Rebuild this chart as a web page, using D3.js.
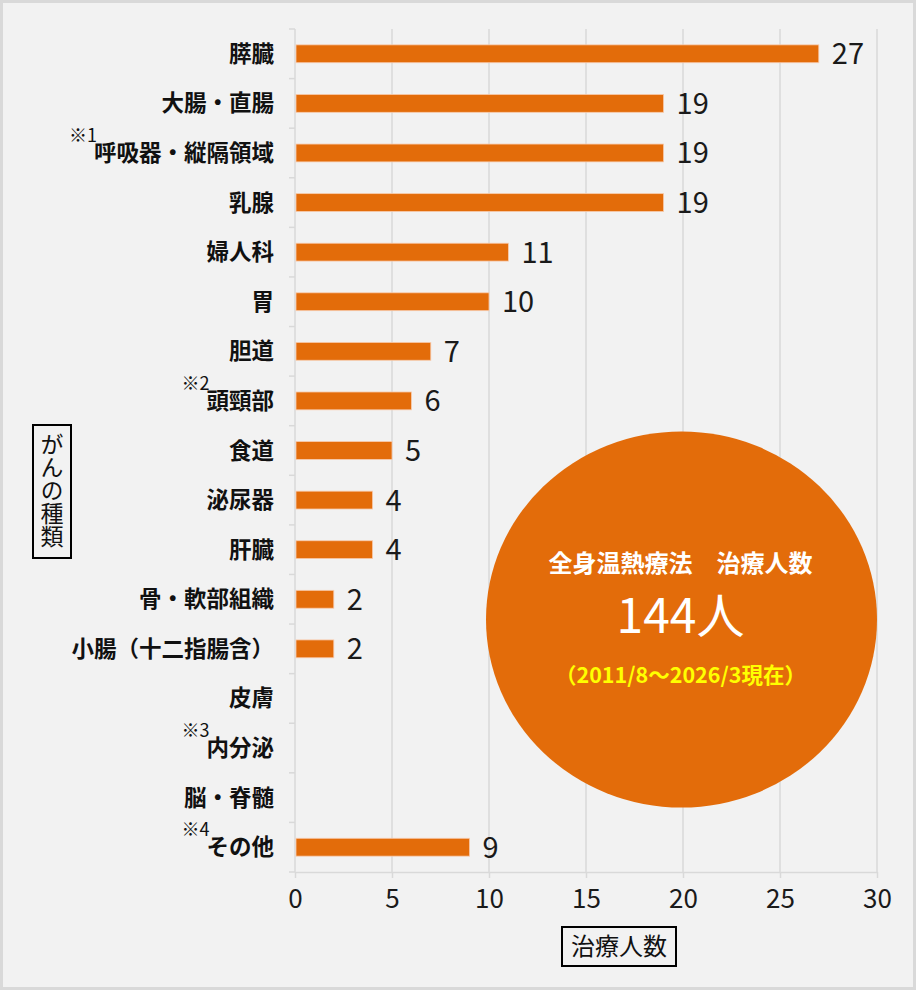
<!DOCTYPE html>
<html>
<head>
<meta charset="utf-8">
<script src="https://cdn.jsdelivr.net/npm/d3@7"></script>
<style>
	body { margin: 0; background: #f2f2f2; }
	svg { display: block; }
	text { font-family: "Noto Sans CJK JP", "Noto Sans", sans-serif; }
</style>
</head>
<body>
<svg id="chart" width="916" height="990"></svg>
<script>
//Data
const CATEGORIES = ["膵臓", "大腸・直腸", "呼吸器・縦隔領域", "乳腺", "婦人科", "胃", "胆道", "頭頸部", "食道", "泌尿器", "肝臓", "骨・軟部組織", "小腸（十二指腸含）", "皮膚", "内分泌", "脳・脊髄", "その他"];
const NOTES = ["", "", "※1", "", "", "", "", "※2", "", "", "", "", "", "", "※3", "", "※4"];
const VALUES = [27, 19, 19, 19, 11, 10, 7, 6, 5, 4, 4, 2, 2, 0, 0, 0, 9];
const X_TICKS = [0, 5, 10, 15, 20, 25, 30];
const X_TITLE = "治療人数";
const Y_TITLE = "がんの種類";
const CIRCLE_LINES = ["全身温熱療法　治療人数", "144人", "（2011/8～2026/3現在）"];

const ORANGE = "#e36c0a";
const GRID = "#d9d9d9";
const W = 916, H = 990;
const LABEL_RIGHT = 274;

const svg = d3.select("#chart");

//Background and frame
svg.append("rect")
	.attr("x", 1.5).attr("y", 1.5)
	.attr("width", W - 3).attr("height", H - 3)
	.attr("fill", "#f2f2f2")
	.attr("stroke", GRID)
	.attr("stroke-width", 3);

//Scales
const x = d3.scaleLinear().domain([0, 30]).range([295, 877]);
const y = d3.scaleBand().domain(CATEGORIES).range([29, 872]).paddingInner(0.64).paddingOuter(0.32);
const step = y.step();

//Vertical gridlines
svg.append("g").selectAll("line")
	.data(X_TICKS.filter(d => d > 0))
	.enter()
	.append("line")
	.attr("x1", d => x(d)).attr("x2", d => x(d))
	.attr("y1", y.range()[0]).attr("y2", y.range()[1])
	.attr("stroke", GRID)
	.attr("stroke-width", 1.5);

//Bottom axis
const xAxis = svg.append("g")
	.attr("transform", "translate(0," + y.range()[1] + ")")
	.call(d3.axisBottom(x).tickValues(X_TICKS).tickSize(6).tickPadding(12).tickSizeOuter(0));
xAxis.select(".domain").attr("stroke", GRID).attr("stroke-width", 1.5);
xAxis.selectAll(".tick line").attr("stroke", GRID).attr("stroke-width", 1.5);
xAxis.selectAll(".tick text")
	.attr("fill", "#1a1a1a")
	.style("font-size", "26px");

//Left axis line with ticks between categories
svg.append("line")
	.attr("x1", x(0)).attr("x2", x(0))
	.attr("y1", y.range()[0]).attr("y2", y.range()[1])
	.attr("stroke", GRID)
	.attr("stroke-width", 1.5);
svg.append("g").selectAll("line")
	.data(d3.range(CATEGORIES.length + 1))
	.enter()
	.append("line")
	.attr("x1", x(0) - 6).attr("x2", x(0))
	.attr("y1", i => y.range()[0] + i * step)
	.attr("y2", i => y.range()[0] + i * step)
	.attr("stroke", GRID)
	.attr("stroke-width", 1.5);

//Bars
const barData = CATEGORIES.map((c, i) => ({ cat: c, value: VALUES[i] })).filter(d => d.value > 0);
svg.append("g").selectAll("rect")
	.data(barData)
	.enter()
	.append("rect")
	.attr("x", x(0) + 1)
	.attr("y", d => y(d.cat))
	.attr("width", d => x(d.value) - x(0) - 1)
	.attr("height", y.bandwidth())
	.attr("fill", ORANGE)
	.attr("stroke", "#f8cbad")
	.attr("stroke-width", 0.8);

//Value labels
svg.append("g").selectAll("text")
	.data(barData)
	.enter()
	.append("text")
	.attr("x", d => x(d.value) + 13)
	.attr("y", d => y(d.cat) + y.bandwidth() / 2 + 10.5)
	.attr("fill", "#1a1a1a")
	.style("font-size", "29px")
	.text(d => d.value);

//Category labels with superscript notes
const catLabels = svg.append("g").selectAll("g")
	.data(CATEGORIES.map((c, i) => ({ cat: c, note: NOTES[i] })))
	.enter()
	.append("g");
catLabels.append("text")
	.attr("class", "cat")
	.attr("x", LABEL_RIGHT)
	.attr("y", d => y(d.cat) + y.bandwidth() / 2 + 8)
	.attr("text-anchor", "end")
	.attr("fill", "#111")
	.style("font-size", "22.5px")
	.style("font-weight", "bold")
	.text(d => d.cat);
catLabels.each(function (d)
{
	if (!d.note)
		return;
	const g = d3.select(this);
	const len = g.select("text.cat").node().getComputedTextLength();
	g.append("text")
		.attr("x", LABEL_RIGHT - len + 3)
		.attr("y", y(d.cat) + y.bandwidth() / 2 - 11)
		.attr("text-anchor", "end")
		.attr("fill", "#111")
		.style("font-size", "18px")
		.text(d.note);
});

//Y axis title (vertical, boxed)
svg.append("rect")
	.attr("x", 33).attr("y", 425)
	.attr("width", 38).attr("height", 133)
	.attr("fill", "none")
	.attr("stroke", "#000")
	.attr("stroke-width", 2);
svg.append("text")
	.attr("x", 52).attr("y", 433)
	.attr("fill", "#111")
	.style("font-size", "23px")
	.style("writing-mode", "vertical-rl")
	.style("text-orientation", "upright")
	.attr("text-anchor", "start")
	.text(Y_TITLE);

//X axis title (boxed)
svg.append("rect")
	.attr("x", 562).attr("y", 927)
	.attr("width", 114).attr("height", 39)
	.attr("fill", "none")
	.attr("stroke", "#000")
	.attr("stroke-width", 2);
svg.append("text")
	.attr("x", 619).attr("y", 955)
	.attr("text-anchor", "middle")
	.attr("fill", "#111")
	.style("font-size", "24px")
	.text(X_TITLE);

//Summary circle
const cx = 681.5, cy = 619.5;
svg.append("ellipse")
	.attr("cx", cx).attr("cy", cy)
	.attr("rx", 195.5).attr("ry", 188)
	.attr("fill", ORANGE);
svg.append("text")
	.attr("x", cx - 1).attr("y", 572)
	.attr("text-anchor", "middle")
	.attr("fill", "#fff")
	.style("font-size", "24px")
	.style("font-weight", "bold")
	.text(CIRCLE_LINES[0]);
svg.append("text")
	.attr("x", cx - 1).attr("y", 633)
	.attr("text-anchor", "middle")
	.attr("fill", "#fff")
	.style("font-size", "48px")
	.text(CIRCLE_LINES[1]);
svg.append("text")
	.attr("x", cx - 1).attr("y", 683)
	.attr("text-anchor", "middle")
	.attr("fill", "#ffff00")
	.style("font-size", "21.5px")
	.style("font-weight", "bold")
	.text(CIRCLE_LINES[2]);
</script>
</body>
</html>
